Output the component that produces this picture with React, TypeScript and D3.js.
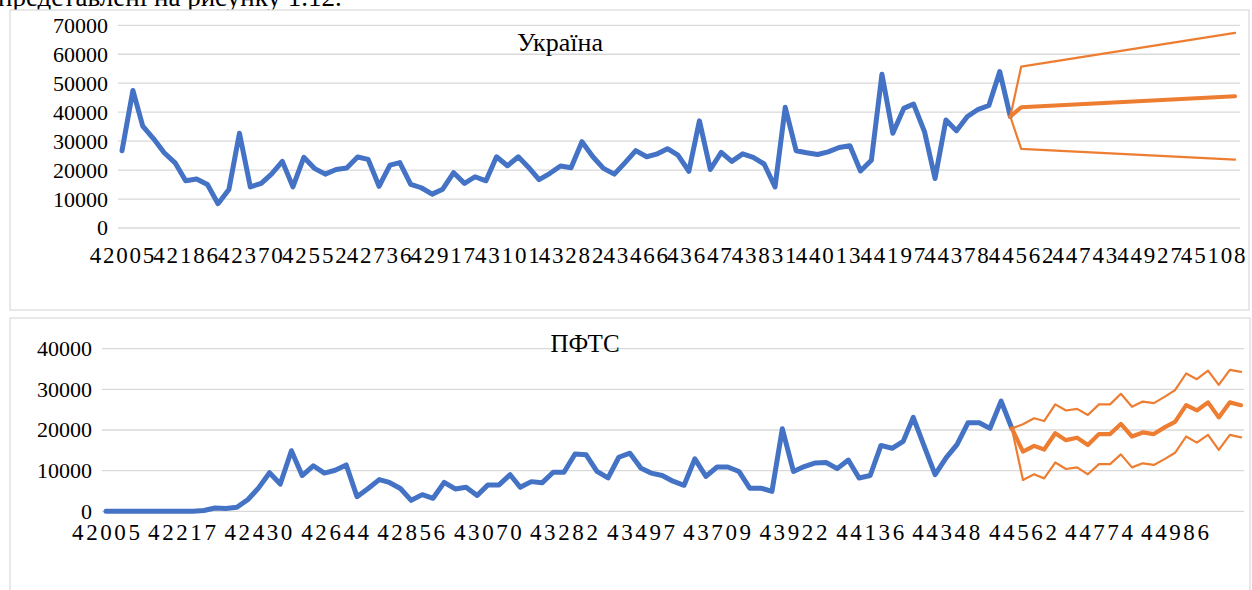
import * as d3 from 'd3';
import React, { useRef, useEffect } from 'react';

// monthly values, Jan 2015 .. Dec 2021
const uaActual = [26700, 47500, 35200, 30800, 26000, 22500, 16300, 16900, 15000, 8400, 13300, 32700,
    14200, 15400, 18600, 23000, 14200, 24400, 20600, 18600, 20200, 20700, 24500, 23700,
    14400, 21700, 22600, 15100, 13900, 11700, 13400, 19100, 15400, 17700, 16300, 24600,
    21500, 24600, 21100, 16700, 18800, 21400, 20800, 29800, 24600, 20600, 18600, 22500,
    26700, 24600, 25500, 27400, 25200, 19600, 37000, 20200, 26100, 23000, 25600, 24400,
    22100, 14200, 41700, 26700, 26000, 25400, 26300, 27800, 28400, 19700, 23400, 53100,
    32700, 41300, 42800, 33300, 17100, 37300, 33600, 38500, 41000, 42300, 54000, 38500]

const pftsActual = [0, 0, 0, 0, 0, 0, 0, 0, 0, 200, 800, 700,
    1000, 2900, 5700, 9500, 6700, 14900, 8800, 11200, 9400, 10100, 11400, 3600,
    5600, 7800, 7100, 5600, 2700, 4100, 3200, 7100, 5500, 5900, 3900, 6500,
    6500, 9000, 5900, 7300, 7000, 9600, 9600, 14100, 13900, 9800, 8200, 13300,
    14300, 10600, 9400, 8800, 7400, 6400, 12900, 8600, 10900, 10900, 9800, 5700,
    5700, 4900, 20300, 9800, 11000, 11900, 12000, 10500, 12600, 8200, 8800, 16200,
    15500, 17200, 23100, 15900, 9000, 13200, 16400, 21800, 21800, 20400, 27100, 20400]

// forecast, Україна: Dec 2021 (last actual), Jan 2022, Sep 2023
const uaFcMonths = [83, 84, 104]
const uaFcMid = [38500, 41700, 45500]
const uaFcUpper = [38500, 55700, 67400]
const uaFcLower = [38500, 27300, 23600]

// forecast, ПФТС: Jan 2022 .. Sep 2023
const pftsFcMid = [14700, 16100, 15200, 19200, 17500, 18100, 16300, 19000, 19000, 21500, 18400,
    19400, 19000, 20700, 22000, 26100, 24800, 26800, 23100, 26800, 26100]
const pftsFcUpper = [21400, 22900, 22200, 26300, 24800, 25200, 23700, 26300, 26300, 28900, 25700,
    27000, 26600, 28200, 29800, 33900, 32500, 34600, 31100, 34800, 34300]
const pftsFcLower = [7700, 9100, 8100, 12000, 10400, 10800, 9100, 11600, 11600, 14000, 10800,
    11800, 11400, 12900, 14400, 18400, 16900, 18800, 15100, 18800, 18200]

const uaTicks = [42005, 42186, 42370, 42552, 42736, 42917, 43101, 43282, 43466, 43647,
    43831, 44013, 44197, 44378, 44562, 44743, 44927, 45108]
const pftsTicks = [42005, 42217, 42430, 42644, 42856, 43070, 43282, 43497, 43709, 43922,
    44136, 44348, 44562, 44774, 44986]

const uaYTicks = [0, 10000, 20000, 30000, 40000, 50000, 60000, 70000]
const pftsYTicks = [0, 10000, 20000, 30000, 40000]

const BLUE = '#4472C4'
const ORANGE = '#ED7D31'
const GRID = '#d9d9d9'
const FONT = "'Times New Roman', 'Liberation Serif', 'DejaVu Serif', serif"

// excel serial of the first day of month i counted from Jan 2015
const serial = (i) => Math.round((Date.UTC(2015, i, 1) - Date.UTC(1899, 11, 30)) / 86400000)

const drawPanel = (svg, p) => {
    const g = svg.append('g')

    g.append('rect')
        .attr('x', p.box[0]).attr('y', p.box[1])
        .attr('width', p.box[2]).attr('height', p.box[3])
        .attr('fill', '#fff').attr('stroke', GRID).attr('stroke-width', 1.2)

    const x = d3.scaleLinear().domain([serial(0), serial(104)]).range(p.xRange)
    const y = d3.scaleLinear().domain([0, p.yMax]).range(p.yRange)

    g.selectAll('.grid').data(p.yTicks).enter()
        .append('line')
        .attr('x1', p.gridX[0]).attr('x2', p.gridX[1])
        .attr('y1', d => y(d)).attr('y2', d => y(d))
        .attr('stroke', GRID).attr('stroke-width', 1.3)

    g.selectAll('.ylab').data(p.yTicks).enter()
        .append('text')
        .attr('x', p.yLabelX).attr('y', d => y(d))
        .attr('dy', '0.34em')
        .attr('text-anchor', 'end')
        .style('font-family', FONT).style('font-size', '22px')
        .attr('fill', '#000')
        .text(d => d)

    g.selectAll('.xlab').data(p.xTicks).enter()
        .append('text')
        .attr('x', d => x(d) + p.xLs / 2).attr('y', p.xLabelY)
        .attr('text-anchor', 'middle')
        .style('font-family', FONT).style('font-size', '23px')
        .style('letter-spacing', p.xLs + 'px')
        .attr('fill', '#000')
        .text(d => d)

    g.append('text')
        .attr('x', p.title[1]).attr('y', p.title[2])
        .attr('text-anchor', 'middle')
        .style('font-family', FONT).style('font-size', p.title[3] + 'px')
        .attr('fill', '#000')
        .text(p.title[0])

    const line = d3.line().x(d => x(serial(d[0]))).y(d => y(d[1]))

    const path = (pts, color, w) => g.append('path')
        .datum(pts)
        .attr('fill', 'none')
        .attr('stroke', color).attr('stroke-width', w)
        .attr('stroke-linejoin', 'round').attr('stroke-linecap', 'round')
        .attr('d', line)

    path(p.actual.map((v, i) => [i, v]), BLUE, 5)
    path(p.fcUpper, ORANGE, 2.2)
    path(p.fcLower, ORANGE, 2.2)
    path(p.fcMid, ORANGE, 4.2)
}

export default function App() {
    const ref = useRef()

    useEffect(() => {
        d3.select(ref.current).selectAll('svg').remove()

        const svg = d3.select(ref.current)
            .append('svg')
            .attr('width', 1252).attr('height', 590)
            .style('position', 'absolute').style('left', 0).style('top', 0)
            .style('background', '#fff')

        svg.append('text')
            .attr('x', -2).attr('y', 6)
            .style('font-family', FONT).style('font-size', '27px')
            .attr('fill', '#000')
            .text('представлені на рисунку 1.12.')

        const fc = (vals, base) => [[83, base]].concat(vals.map((v, i) => [84 + i, v]))

        drawPanel(svg, {
            box: [10, 10, 1239, 300],
            xRange: [122, 1235],
            gridX: [118, 1240],
            yRange: [228, 25.3],
            yMax: 70000,
            yTicks: uaYTicks,
            xTicks: uaTicks,
            yLabelX: 108,
            xLabelY: 263, xLs: 1.8,
            title: ['Україна', 560, 51, 26],
            actual: uaActual,
            fcMid: uaFcMonths.map((m, i) => [m, uaFcMid[i]]),
            fcUpper: uaFcMonths.map((m, i) => [m, uaFcUpper[i]]),
            fcLower: uaFcMonths.map((m, i) => [m, uaFcLower[i]]),
        })

        const base = pftsActual[pftsActual.length - 1]
        drawPanel(svg, {
            box: [10, 318, 1240, 290],
            xRange: [106, 1241],
            gridX: [102, 1244],
            yRange: [511.3, 348.7],
            yMax: 40000,
            yTicks: pftsYTicks,
            xTicks: pftsTicks,
            yLabelX: 92,
            xLabelY: 540, xLs: 2.6,
            title: ['ПФТС', 585, 352, 25],
            actual: pftsActual,
            fcMid: fc(pftsFcMid, base),
            fcUpper: fc(pftsFcUpper, base),
            fcLower: fc(pftsFcLower, base),
        })
    }, [])

    return <div ref={ref} />
}
